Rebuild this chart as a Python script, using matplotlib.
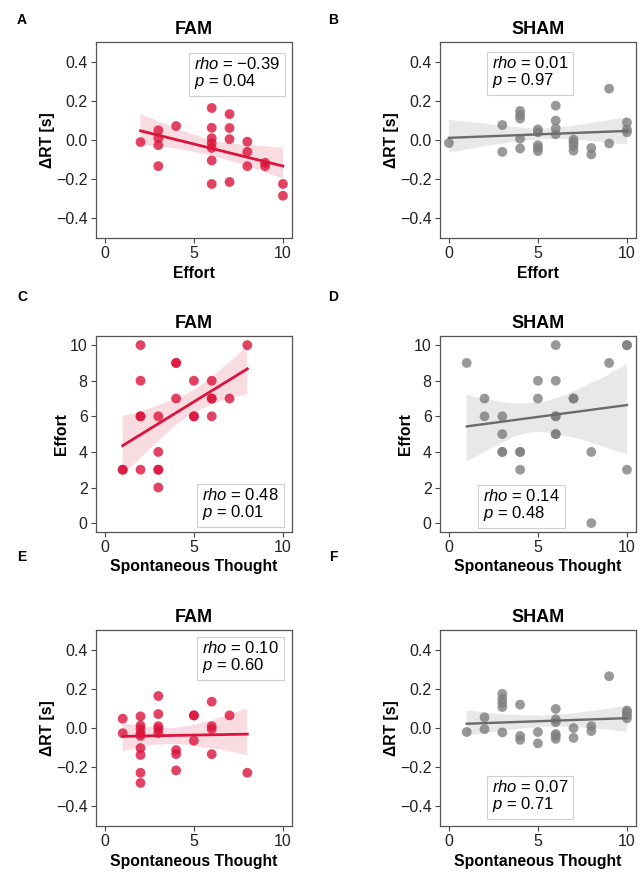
import numpy as np
import matplotlib
matplotlib.use("Agg")
import matplotlib.pyplot as plt
import seaborn as sns

plt.rcParams["font.family"] = ["Liberation Sans", "DejaVu Sans"]
plt.rcParams["mathtext.fontset"] = "custom"
plt.rcParams["mathtext.rm"] = "Liberation Sans"
plt.rcParams["mathtext.it"] = "Liberation Sans:italic"

RED = "#DC143C"
GRAY = "#808080"

# --- A: FAM, Effort vs dRT
fam_effort_a = [2, 3, 3, 3, 3, 4, 6, 6, 6, 6, 6, 6, 6, 7, 7, 7, 7, 8, 8, 8, 9, 9, 10, 10]
fam_drt_a = [-0.01, 0.05, 0.01, -0.026, -0.133, 0.072, 0.164, 0.063, 0.01, -0.015, -0.04,
             -0.104, -0.224, 0.133, 0.062, 0.005, -0.214, -0.008, -0.06, -0.133,
             -0.116, -0.133, -0.224, -0.284]

# --- B: SHAM, Effort vs dRT
sham_effort_b = [0, 3, 3, 4, 4, 4, 4, 4, 5, 5, 5, 5, 5, 6, 6, 6, 6, 7, 7, 7, 7, 8, 8, 9, 9, 10, 10, 10]
sham_drt_b = [-0.015, 0.077, -0.06, 0.149, 0.128, 0.11, 0.007, -0.043, 0.055, 0.04, -0.026,
              -0.04, -0.056, 0.176, 0.1, 0.06, 0.03, 0.003, -0.013, -0.03, -0.054,
              -0.04, -0.073, 0.263, -0.017, 0.09, 0.055, 0.04]

# --- C: FAM, Spontaneous Thought vs Effort
fam_st_c = [1, 1, 2, 2, 2, 2, 2, 3, 3, 3, 3, 3, 4, 4, 4, 5, 5, 5, 6, 6, 6, 6, 7, 8]
fam_effort_c = [3, 3, 10, 8, 6, 6, 3, 6, 4, 3, 3, 2, 9, 9, 7, 8, 6, 6, 8, 7, 7, 6, 7, 10]

# --- D: SHAM, Spontaneous Thought vs Effort
sham_st_d = [1, 2, 2, 3, 3, 3, 3, 4, 4, 4, 5, 5, 6, 6, 6, 6, 6, 6, 7, 7, 8, 8, 9, 10, 10, 10]
sham_effort_d = [9, 7, 6, 6, 5, 4, 4, 4, 4, 3, 8, 7, 10, 8, 6, 6, 5, 5, 7, 7, 4, 0, 9, 10, 10, 3]

# --- E: FAM, Spontaneous Thought vs dRT
fam_st_e = [1, 1, 2, 2, 2, 2, 2, 2, 2, 2, 2, 3, 3, 3, 3, 3, 4, 4, 4, 5, 5, 5, 6, 6, 6, 6, 7, 8]
fam_drt_e = [0.048, -0.026, 0.06, 0.013, -0.005, -0.028, -0.04, -0.102, -0.137, -0.228, -0.28,
             0.164, 0.072, 0.01, -0.005, -0.026, -0.112, -0.133, -0.216, 0.065, 0.065,
             -0.064, 0.135, 0.01, -0.005, -0.133, 0.065, -0.228]

# --- F: SHAM, Spontaneous Thought vs dRT
sham_st_f = [1, 2, 2, 3, 3, 3, 3, 3, 4, 4, 4, 5, 5, 6, 6, 6, 6, 6, 6, 7, 7, 8, 8, 9, 10, 10, 10, 10]
sham_drt_f = [-0.02, 0.055, -0.005, 0.175, 0.15, 0.13, 0.108, -0.022, 0.12, -0.04, -0.06,
              -0.02, -0.078, 0.098, 0.045, 0.03, -0.03, -0.04, -0.055, 0.0, -0.05,
              0.01, -0.015, 0.265, 0.09, 0.08, 0.065, 0.05]

rho_vals = ["−0.39", "0.01", "0.48", "0.14", "0.10", "0.07"]
p_vals = ["0.04", "0.97", "0.01", "0.48", "0.60", "0.71"]
box_pos = [(0.5, 0.93), (0.264, 0.934), (0.541, 0.23), (0.218, 0.224), (0.541, 0.948), (0.264, 0.242)]

panels = [
    ("A", "FAM", fam_effort_a, fam_drt_a, RED, "Effort", "ΔRT [s]"),
    ("B", "SHAM", sham_effort_b, sham_drt_b, GRAY, "Effort", "ΔRT [s]"),
    ("C", "FAM", fam_st_c, fam_effort_c, RED, "Spontaneous Thought", "Effort"),
    ("D", "SHAM", sham_st_d, sham_effort_d, GRAY, "Spontaneous Thought", "Effort"),
    ("E", "FAM", fam_st_e, fam_drt_e, RED, "Spontaneous Thought", "ΔRT [s]"),
    ("F", "SHAM", sham_st_f, sham_drt_f, GRAY, "Spontaneous Thought", "ΔRT [s]"),
]

fig = plt.figure(figsize=(6.4, 8.72), dpi=100)
col_left = [0.15, 0.6875]
row_bottom = [1 - 238 / 872, 1 - 532 / 872, 1 - 826 / 872]
w, h = 0.306, 0.2245

for i, (letter, title, x, y, color, xlab, ylab) in enumerate(panels):
    r, c = divmod(i, 2)
    ax = fig.add_axes([col_left[c], row_bottom[r], w, h])
    line_c = color if color == RED else "#6a6a6a"
    sns.regplot(x=np.array(x, float), y=np.array(y, float), ax=ax, color=color, seed=0,
                scatter_kws=dict(s=50, alpha=0.8, edgecolor="none", color=color),
                line_kws=dict(lw=2.0 if color == RED else 1.7, color=line_c))
    for coll in ax.collections[1:]:
        coll.set_alpha(0.15)
    ax.set_xlim(-0.5, 10.5)
    ax.set_xticks([0, 5, 10])
    if ylab == "Effort":
        ax.set_ylim(-0.5, 10.5)
        ax.set_yticks([0, 2, 4, 6, 8, 10])
    else:
        ax.set_ylim(-0.5, 0.5)
        ax.set_yticks([-0.4, -0.2, 0.0, 0.2, 0.4])
        ax.set_yticklabels(["−0.4", "−0.2", "0.0", "0.2", "0.4"])
    ax.tick_params(labelsize=11.5, length=3.5, width=0.8, color="#444444",
                   labelcolor="#222222", pad=2.5)
    for sp in ax.spines.values():
        sp.set_color("#555555")
        sp.set_linewidth(0.9)
    ax.set_xlabel(xlab, fontsize=11.3, fontweight="bold", labelpad=3)
    ax.set_ylabel(ylab, fontsize=11.3, fontweight="bold", labelpad=1)
    ax.set_title(title, fontsize=13, fontweight="bold", pad=6)
    bx, by = box_pos[i]
    ax.text(bx, by, f"$\\it{{rho}}$ = {rho_vals[i]}\n$\\it{{p}}$ = {p_vals[i]}",
            transform=ax.transAxes, ha="left", va="top", fontsize=12, linespacing=1.0,
            bbox=dict(boxstyle="square,pad=0.3", fc="white", ec="#d0d0d0", lw=0.8))
    lx = 22 / 640 if c == 0 else 333 / 640
    ly = [20, 297, 557][r]
    fig.text(lx, 1 - ly / 872, letter, fontsize=10, fontweight="bold", ha="center", va="center")

fig.savefig("out.png", dpi=100)
